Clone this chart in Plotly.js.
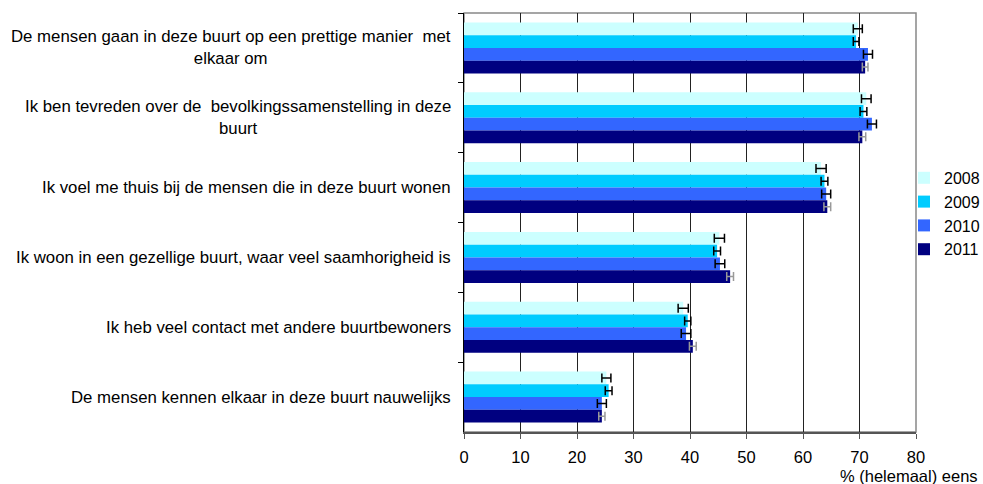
<!DOCTYPE html>
<html>
<head>
<meta charset="utf-8">
<script src="https://cdn.plot.ly/plotly-3.0.1.min.js"></script>
<style>html,body{margin:0;padding:0;background:#fff;}#chart{width:983px;height:484px;}</style>
</head>
<body>
<div id="chart"></div>
<script>
const categories = [
  "De mensen gaan in deze buurt op een prettige manier  met<br>elkaar om",
  "Ik ben tevreden over de  bevolkingssamenstelling in deze<br>buurt",
  "Ik voel me thuis bij de mensen die in deze buurt wonen",
  "Ik woon in een gezellige buurt, waar veel saamhorigheid is",
  "Ik heb veel contact met andere buurtbewoners",
  "De mensen kennen elkaar in deze buurt nauwelijks"
];
const years = ["2008", "2009", "2010", "2011"];
const v2008 = [69.7, 71.2, 63.2, 45.2, 38.8, 25.2];
const v2009 = [69.4, 70.7, 63.8, 44.8, 39.6, 25.6];
const v2010 = [71.5, 72.2, 64.1, 45.3, 39.3, 24.4];
const v2011 = [71.0, 70.5, 64.3, 47.1, 40.5, 24.4];
const e2008 = [0.8, 0.85, 0.9, 0.9, 0.9, 0.8];
const e2009 = [0.5, 0.6, 0.6, 0.6, 0.55, 0.6];
const e2010 = [0.8, 0.8, 0.8, 0.85, 0.85, 0.8];
const e2011 = [0.5, 0.6, 0.6, 0.6, 0.6, 0.55];
const xTicks = [0, 10, 20, 30, 40, 50, 60, 70, 80];
const xTitle = "% (helemaal) eens";

const values = [v2008, v2009, v2010, v2011];
const errors = [e2008, e2009, e2010, e2011];
const colors = ["#CCFFFF", "#00CCFF", "#3366FF", "#000080"];
const errColors = ["#000000", "#000000", "#000000", "#999999"];
const FONT = "Liberation Sans, Arial, sans-serif";

const traces = years.map((yr, i) => ({
  type: "bar",
  orientation: "h",
  name: yr,
  y: categories,
  x: values[i],
  marker: {color: colors[i], line: {width: 0}},
  error_x: {type: "data", array: errors[i], visible: true, color: errColors[i], thickness: 1.5, width: 4.5}
}));

const annotations = categories.map(c => ({
  xref: "paper", yref: "y", x: 0, y: c, xanchor: "right", yanchor: "middle",
  xshift: -11, text: c, align: "center", showarrow: false,
  font: {family: FONT, size: 16.8, color: "#000"}
}));
annotations.push({
  xref: "paper", yref: "paper", x: (980 - 464) / 452, y: 0, xanchor: "right", yanchor: "middle",
  yshift: -44, text: xTitle, showarrow: false, font: {family: FONT, size: 16.5, color: "#000"}
});

const layout = {
  width: 983, height: 484,
  margin: {l: 464, r: 67, t: 13, b: 52, pad: 0, autoexpand: false},
  paper_bgcolor: "#fff", plot_bgcolor: "#fff",
  font: {family: FONT, size: 16.5, color: "#000"},
  barmode: "group",
  bargap: 0.27,
  bargroupgap: 0,
  showlegend: true,
  legend: {x: (904 - 464) / 452, y: 0.647, xanchor: "left", yanchor: "top", font: {family: FONT, size: 16}, tracegroupgap: 0, itemwidth: 30, bgcolor: "rgba(0,0,0,0)"},
  xaxis: {
    range: [0, 80], tickvals: xTicks, ticktext: xTicks.map(String),
    tickfont: {family: FONT, size: 16.5},
    showgrid: true, gridcolor: "#222", gridwidth: 1,
    showline: true, linecolor: "#555", linewidth: 1.5,
    ticks: "outside", ticklen: 5, tickcolor: "#555",
    ticklabelstandoff: 5,
    zeroline: false, fixedrange: true
  },
  yaxis: {
    type: "category", autorange: "reversed",
    showticklabels: false, showgrid: false, zeroline: false,
    showline: true, linecolor: "#000", linewidth: 1.5,
    ticks: "outside", ticklen: 5, tickson: "boundaries", tickcolor: "#000",
    fixedrange: true
  },
  shapes: [{type: "rect", xref: "paper", yref: "paper", x0: 0, x1: 1, y0: 0, y1: 1, line: {color: "#888", width: 1.5}, layer: "below"}],
  annotations: annotations
};

Plotly.newPlot("chart", traces, layout, {displayModeBar: false, staticPlot: true});
</script>
</body>
</html>
